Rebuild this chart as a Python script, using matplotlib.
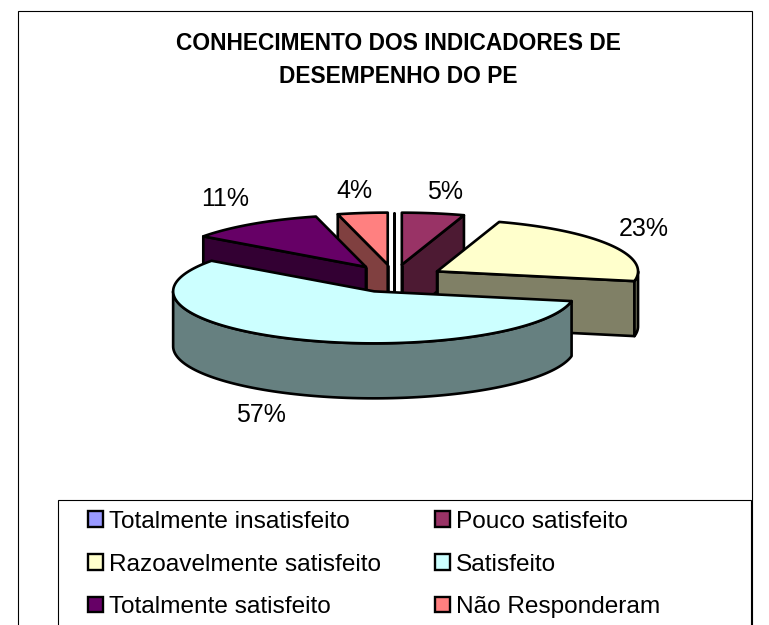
import numpy as np
import matplotlib
matplotlib.use("Agg")
import matplotlib.pyplot as plt
from matplotlib.patches import Polygon, Rectangle, Patch

plt.rcParams['font.family'] = ['Liberation Sans', 'DejaVu Sans']

categories = ["Totalmente insatisfeito", "Pouco satisfeito", "Razoavelmente satisfeito",
              "Satisfeito", "Totalmente satisfeito", "Não Responderam"]
values = [0, 5, 23, 57, 11, 4]
top_colors = ["#9999FF", "#993366", "#FFFFCC", "#CCFFFF", "#660066", "#FF8080"]
side_colors = ["#4D4D80", "#4D1A33", "#808066", "#668080", "#330033", "#804040"]
title_lines = "CONHECIMENTO DOS INDICADORES DE\nDESEMPENHO DO PE"
label_xy = {1: (445, 192), 2: (644, 229), 3: (261, 415), 4: (225, 199), 5: (354, 191)}

# pie layout, in pixels
CX, CY, RX, RY, EX, EY, DEPTH = 394, 278.5, 201, 52, 50, 14, 55
LW = 1.9

fig = plt.figure(figsize=(7.69, 6.25), dpi=100)
ax = fig.add_axes([0, 0, 1, 1])
ax.set_xlim(0, 769)
ax.set_ylim(625, 0)
ax.axis("off")

ax.add_patch(Rectangle((18, 11), 734, 640, fc="white", ec="black", lw=0.8, zorder=0))
ax.text(398, 60, title_lines, ha="center", va="center", fontsize=16.4, fontweight="bold",
        linespacing=1.6, color="black")


def rim(ax0, ay0, deg):
    t = np.radians(deg)
    return np.column_stack([ax0 + RX * np.sin(t), ay0 - RY * np.cos(t)])


total = sum(values)
edges = np.concatenate([[0], np.cumsum(values)]) * 360.0 / total
slices = []
for i, v in enumerate(values):
    a0, a1 = edges[i], edges[i + 1]
    mid = np.radians((a0 + a1) / 2)
    ax0 = CX + EX * np.sin(mid)
    ay0 = CY - EY * np.cos(mid)
    slices.append((ay0, i, a0, a1, ax0))

kw = dict(ec="black", lw=LW, joinstyle="round")
for ay0, i, a0, a1, ax0 in sorted(slices, key=lambda s: s[0]):
    apex = np.array([[ax0, ay0]])
    down = np.array([0, DEPTH])
    # radial walls
    for ang, show in ((a0, np.sin(np.radians(a0)) < -1e-9),
                      (a1, np.sin(np.radians(a1)) > 1e-9 or a0 == a1)):
        if show:
            p = rim(ax0, ay0, ang)
            ax.add_patch(Polygon(np.vstack([apex, p, p + down, apex + down]),
                                 closed=True, fc=side_colors[i], **kw))
    # a slice's vertical edges at its centre
    if a1 > a0:
        ax.add_patch(Polygon(np.vstack([apex, apex + down]), closed=False, fill=False, **kw))
    # outer wall, front half only
    lo, hi = max(a0, 90), min(a1, 270)
    if hi > lo:
        arc = rim(ax0, ay0, np.linspace(lo, hi, 120))
        ax.add_patch(Polygon(np.vstack([arc, (arc + down)[::-1]]),
                             closed=True, fc=side_colors[i], **kw))
    # top face
    arc = rim(ax0, ay0, np.linspace(a0, a1, 200))
    ax.add_patch(Polygon(np.vstack([apex, arc]), closed=True, fc=top_colors[i], **kw))

for i, (x, y) in label_xy.items():
    ax.text(x, y, f"{values[i]}%", ha="center", va="center", fontsize=18, color="black")

ax.add_patch(Rectangle((58, 500), 693, 160, fc="white", ec="black", lw=0.8, zorder=2))
handles = [Patch(fc=top_colors[i], ec="black", lw=1.7) for i in range(len(values))]
order = [0, 2, 4, 1, 3, 5]
leg = ax.legend([handles[i] for i in order], [categories[i] for i in order], ncol=2,
                loc="upper left", bbox_to_anchor=(88 / 769, 1 - 511 / 625),
                frameon=False, fontsize=17.6, handlelength=0.62, handleheight=0.62,
                handletextpad=0.25, columnspacing=2.2, labelspacing=0.84, borderpad=0,
                borderaxespad=0)
leg.set_zorder(3)

fig.savefig("out.png", dpi=100)
